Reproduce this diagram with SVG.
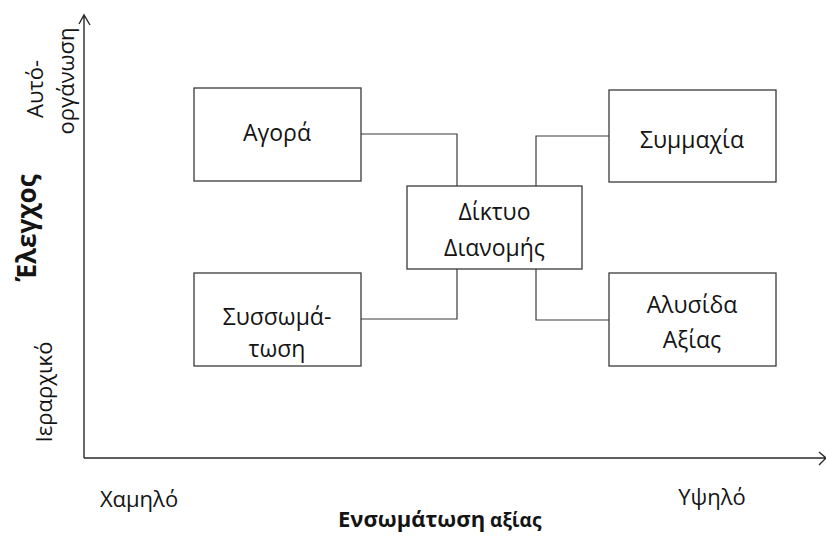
<svg xmlns="http://www.w3.org/2000/svg" width="826" height="536" viewBox="0 0 826 536">
  <style>
    .box { fill: #ffffff; stroke: #3a3a3a; stroke-width: 1.3; }
    .wire { fill: none; stroke: #3a3a3a; stroke-width: 1.2; }
    .axis { fill: none; stroke: #2a2a2a; stroke-width: 1.4; }
    .lbl { font-family: "Open Sans", "Noto Sans", sans-serif; font-size: 23px; fill: #141414; text-anchor: middle; }
    .ax { font-family: "Open Sans", "Noto Sans", sans-serif; font-size: 22px; fill: #141414; text-anchor: middle; }
    .title { font-family: "Open Sans", "Noto Sans", sans-serif; font-weight: bold; fill: #141414; }
  </style>
  <rect width="826" height="536" fill="#ffffff"/>

  <!-- axes -->
  <g id="axes">
    <path class="axis" d="M84 458 V16 M79 24 L84 15 L90 25"/>
    <path class="axis" d="M84 458 H825 M819 452 L826 458 L819 465"/>
  </g>

  <!-- connectors -->
  <g id="connectors">
    <path class="wire" d="M361 134 H457 V186"/>
    <path class="wire" d="M609 136 H536 V186"/>
    <path class="wire" d="M361 319 H457 V269"/>
    <path class="wire" d="M609 320 H536 V269"/>
  </g>

  <!-- nodes -->
  <g id="agora">
    <rect class="box" x="194" y="88" width="167" height="93"/>
    <text class="lbl" x="277" y="141">Αγορά</text>
  </g>
  <g id="diktyo">
    <rect class="box" x="407" y="186" width="175" height="83"/>
    <text class="lbl" x="494.5" y="220">Δίκτυο</text>
    <text class="lbl" x="494.5" y="256">Διανομής</text>
  </g>
  <g id="symmaxia">
    <rect class="box" x="609" y="90" width="167" height="92"/>
    <text class="lbl" x="692" y="148">Συμμαχία</text>
  </g>
  <g id="alysida">
    <rect class="box" x="609" y="273" width="167" height="93"/>
    <text class="lbl" x="692" y="313">Αλυσίδα</text>
    <text class="lbl" x="692" y="348">Αξίας</text>
  </g>
  <g id="syssomatosi">
    <rect class="box" x="194" y="273" width="167" height="93"/>
    <text class="lbl" x="277" y="325">Συσσωμά-</text>
    <text class="lbl" x="277" y="357">τωση</text>
  </g>

  <!-- axis labels -->
  <g id="y-labels">
    <text class="ax" transform="translate(43 89) rotate(-90)">Αυτό-</text>
    <text class="ax" transform="translate(74 81) rotate(-90)">οργάνωση</text>
    <text class="title" font-size="26" text-anchor="middle" transform="translate(36 228) rotate(-90)">Έλεγχος</text>
    <text class="ax" transform="translate(52 392) rotate(-90)">Ιεραρχικό</text>
  </g>
  <g id="x-labels">
    <text class="ax" x="139" y="507">Χαμηλό</text>
    <text class="ax" x="712" y="505">Υψηλό</text>
    <text class="title" x="338" y="527" font-size="22">Ενσωμάτωση<tspan font-size="19"> αξίας</tspan></text>
  </g>
</svg>
